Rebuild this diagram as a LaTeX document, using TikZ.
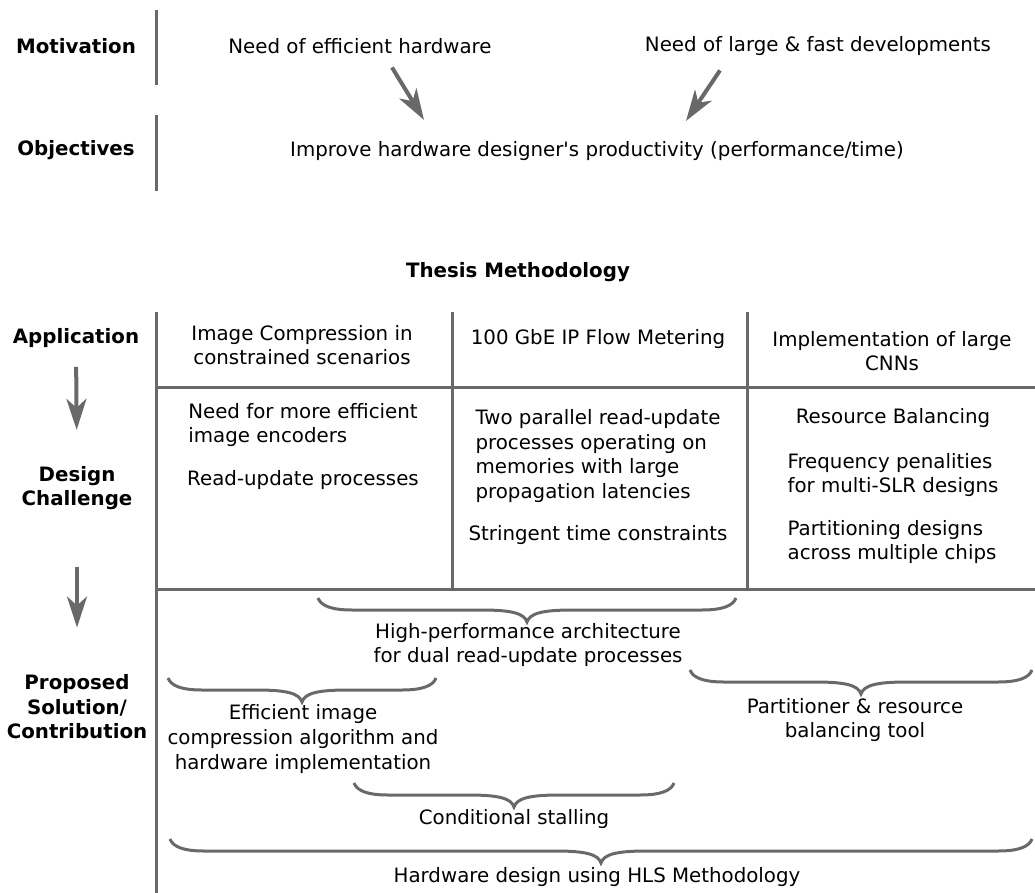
\documentclass[tikz,border=0pt]{standalone}
\usepackage{fontspec}
\setmainfont{DejaVu Sans}[Ligatures=TeXOff]
\usetikzlibrary{positioning, arrows.meta, calc}
\definecolor{linegray}{RGB}{105,105,105}

\begin{document}
\begin{tikzpicture}[
  x=1pt, y=-1pt,
  font=\fontsize{19.8}{24.6}\selectfont,
  lbl/.style={inner sep=0pt, align=center, font=\fontsize{19.8}{24.6}\selectfont\bfseries},
  txt/.style={inner sep=0pt, align=center},
  blk/.style={inner sep=0pt, align=left},
  sep/.style={draw=linegray, line width=3pt},
  arr/.style={-{Stealth[length=31pt, width=20pt, inset=9pt]}, draw=linegray, line width=4pt},
  brc/.style={draw=linegray, line width=3pt, to path={
    let \p1=(\tikztostart), \p2=(\tikztotarget), \p3=($(\p1)!0.5!(\p2)$) in
    (\p1) .. controls (\x1+3pt,\y1-8pt) and (\x1+14pt,\y1-12pt) .. (\x1+34pt,\y1-12pt)
    -- (\x3-46pt,\y1-12pt) .. controls (\x3-16pt,\y1-12pt) and (\x3-3pt,\y1-15pt) .. (\x3,\y1-24pt)
    .. controls (\x3+3pt,\y1-15pt) and (\x3+16pt,\y1-12pt) .. (\x3+46pt,\y1-12pt)
    -- (\x2-34pt,\y1-12pt) .. controls (\x2-14pt,\y1-12pt) and (\x2-3pt,\y1-8pt) .. (\p2)}}
]
\useasboundingbox (0,0) rectangle (1035,893);

% motivation / objectives
\node[lbl] (motiv) at (76,46) {Motivation};
\node[lbl] (objec) at (76,150) {Objectives};
\draw[sep] (156,10) -- (156,85);
\draw[sep] (156,115) -- (156,191);
\node[txt] (need1) at (360,46) {Need of efficient hardware};
\node[txt] (need2) at (818,46) {Need of large \& fast developments};
\node[txt] (improve) at (597,151) {Improve hardware designer's productivity (performance/time)};
\draw[arr] ([xshift=32pt, yshift=-13.6pt]need1.south) -- ([xshift=-173pt, yshift=21.3pt]improve.north);
\draw[arr] ([xshift=-98pt, yshift=-14.6pt]need2.south) -- ([xshift=89pt, yshift=20.3pt]improve.north);

\node[lbl] (thesis) at (518,272) {Thesis Methodology};

% table
\draw[sep] (156,312) -- (156,893);
\draw[sep] (452,312) -- (452,589);
\draw[sep] (747,312) -- (747,589);
\draw[sep] (156,387) -- (1035,387);
\draw[sep] (156,589) -- (1035,589);

\node[lbl] (app) at (76,338) {Application};
\node[lbl] (design) at (77,488) {Design\\Challenge};
\node[lbl] (proposed) at (77,707) {Proposed\\Solution/\\Contribution};
\draw[arr, shorten <=19pt, shorten >=36pt] (app.south) -- (design.north);
\draw[arr, shorten <=57pt, shorten >=47pt] (design.south) -- (proposed.north);

\node[txt] (imgcomp) at (302,345) {Image Compression in\\constrained scenarios};
\node[txt] (flowmet) at (598,339) {100 GbE IP Flow Metering};
\node[txt] (cnns) at (892,351) {Implementation of large\\CNNs};

\node[blk] (encoders) at (303,425) {Need for more efficient\\image encoders};
\node[blk] (readupd) at (303,480) {Read-update processes};
\node[blk] (parallel) at (598,456) {Two parallel read-update\\processes operating on\\memories with large\\propagation latencies};
\node[blk] (stringent) at (598,535) {Stringent time constraints};
\node[blk] (balancing) at (893,418) {Resource Balancing};
\node[blk] (freqpen) at (893,475) {Frequency penalities\\for multi-SLR designs};
\node[blk] (partchips) at (892,542) {Partitioning designs\\across multiple chips};

% contributions
\coordinate (b1l) at (318,598);
\coordinate (b1r) at (736,598);
\coordinate (b2l) at (168,678);
\coordinate (b2r) at (436,678);
\coordinate (b3l) at (690,670);
\coordinate (b3r) at (1032,670);
\coordinate (b4l) at (354,783);
\coordinate (b4r) at (674,783);
\coordinate (b5l) at (170,839);
\coordinate (b5r) at (1032,839);
\draw[brc] (b1l) to (b1r);
\draw[brc] (b2l) to (b2r);
\draw[brc] (b3l) to (b3r);
\draw[brc] (b4l) to (b4r);
\draw[brc] (b5l) to (b5r);

\node[txt] (dualarch) at (528,645) {High-performance architecture\\for dual read-update processes};
\node[txt] (imgalgo) at (303,739) {Efficient image\\compression algorithm and\\hardware implementation};
\node[txt] (partool) at (855,720) {Partitioner \& resource\\balancing tool};
\node[txt] (stalling) at (514,819) {Conditional stalling};
\node[txt] (hlsdesign) at (597,877) {Hardware design using HLS Methodology};

\end{tikzpicture}
\end{document}
